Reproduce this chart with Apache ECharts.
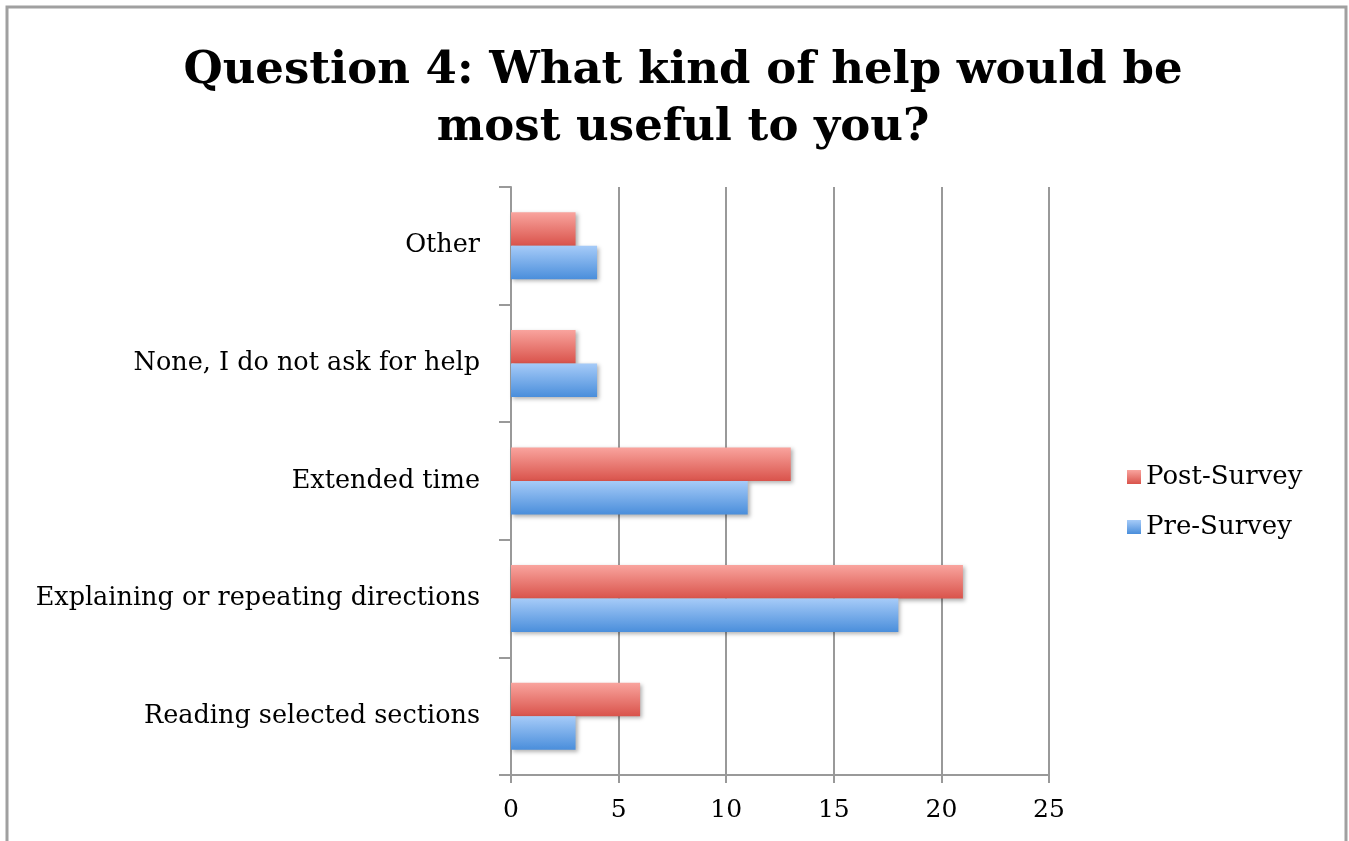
<!DOCTYPE html>
<html>
<head>
<meta charset="utf-8">
<script src="https://cdn.jsdelivr.net/npm/echarts@6/dist/echarts.min.js"></script>
<style>
  html, body { margin: 0; padding: 0; background: #fff; }
  #chart { width: 1349px; height: 841px; }
</style>
</head>
<body>
<div id="chart"></div>
<script>
// categories bottom -> top (category axis runs upward)
var categories = [
  "Reading selected sections",
  "Explaining or repeating directions",
  "Extended time",
  "None, I do not ask for help",
  "Other"
];
var preSurvey = [3, 18, 11, 4, 4];
var postSurvey = [6, 21, 13, 3, 3];
var xTicks = { min: 0, max: 25, interval: 5 };

var serif = "'DejaVu Serif', 'Liberation Serif', serif";

function grad(top, bottom) {
  return new echarts.graphic.LinearGradient(0, 0, 0, 1, [
    { offset: 0, color: top },
    { offset: 1, color: bottom }
  ]);
}

var chart = echarts.init(document.getElementById("chart"));
var option = {
  animation: false,
  backgroundColor: "#fff",
  graphic: [
    {
      type: "rect",
      shape: { x: 7, y: 7, width: 1339, height: 900 },
      style: { fill: "none", stroke: "#a0a0a0", lineWidth: 3 },
      silent: true
    }
  ],
  title: {
    text: "Question 4: What kind of help would be\nmost useful to you?",
    left: 678,
    textAlign: "center",
    top: 38,
    textStyle: {
      fontFamily: serif,
      fontWeight: "bold",
      fontSize: 45,
      lineHeight: 57,
      color: "#000"
    }
  },
  legend: {
    orient: "vertical",
    left: 1122,
    top: 459,
    itemWidth: 14,
    itemHeight: 14,
    itemGap: 24,
    icon: "rect",
    data: ["Post-Survey", "Pre-Survey"],
    textStyle: { fontFamily: serif, fontSize: 26, color: "#000" }
  },
  grid: { left: 511, right: 300, top: 187, bottom: 66, containLabel: false },
  xAxis: {
    type: "value",
    min: xTicks.min,
    max: xTicks.max,
    interval: xTicks.interval,
    axisLine: { show: true, lineStyle: { color: "#999", width: 2 } },
    axisTick: { show: true, length: 8, lineStyle: { color: "#999", width: 2 } },
    splitLine: { show: true, lineStyle: { color: "#999", width: 2 } },
    axisLabel: { fontFamily: serif, fontSize: 25, color: "#000", margin: 23 }
  },
  yAxis: {
    type: "category",
    data: categories,
    axisLine: { show: true, lineStyle: { color: "#999", width: 2 } },
    axisTick: { show: true, length: 12, lineStyle: { color: "#999", width: 2 } },
    axisLabel: {
      fontFamily: serif,
      fontSize: 25.5,
      color: "#000",
      margin: 31,
      padding: [8, 0, 0, 0]
    }
  },
  series: [
    {
      name: "Post-Survey",
      type: "bar",
      data: postSurvey,
      barGap: "0%",
      barCategoryGap: "43%",
      itemStyle: {
        color: grad("#f9a49e", "#d9534b"),
        shadowBlur: 4,
        shadowColor: "rgba(0,0,0,0.3)",
        shadowOffsetX: 2,
        shadowOffsetY: 2
      }
    },
    {
      name: "Pre-Survey",
      type: "bar",
      data: preSurvey,
      barGap: "0%",
      barCategoryGap: "43%",
      itemStyle: {
        color: grad("#a6cbf8", "#4a8edb"),
        shadowBlur: 4,
        shadowColor: "rgba(0,0,0,0.3)",
        shadowOffsetX: 2,
        shadowOffsetY: 2
      }
    }
  ]
};
chart.setOption(option);
</script>
</body>
</html>
